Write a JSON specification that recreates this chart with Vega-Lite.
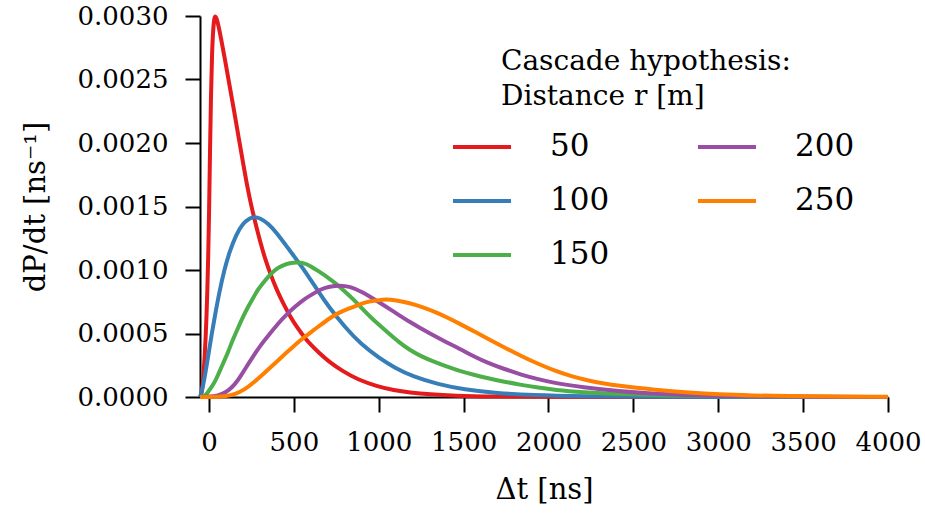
{
  "$schema": "https://vega.github.io/schema/vega-lite/v6.json",
  "width": 688,
  "height": 381,
  "autosize": {"type": "none"},
  "padding": {"left": 200, "top": 16, "right": 37, "bottom": 118},
  "background": "white",
  "title": {
    "text": ["Cascade hypothesis:", "Distance r [m]"],
    "orient": "top", "anchor": "start", "frame": "group", "align": "left", "baseline": "top",
    "dx": 301, "dy": 112, "offset": 4, "lineHeight": 35,
    "font": "DejaVu Serif", "fontSize": 28, "fontWeight": "normal", "color": "black"
  },
  "config": {
    "view": {"stroke": null},
    "axis": {
      "domainColor": "black", "domainWidth": 2, "tickColor": "black", "tickWidth": 2, "tickSize": 15,
      "labelFont": "DejaVu Serif", "labelFontSize": 26, "labelColor": "black", "labelPadding": 17,
      "titleFont": "DejaVu Serif", "titleFontSize": 29, "titleFontWeight": "normal", "titleColor": "black",
      "grid": false
    }
  },
  "datasets": {
    "curves": [
      {"r":50,"t":-53,"p":0},{"r":50,"t":-45,"p":0.00002},{"r":50,"t":-40,"p":0.00006},{"r":50,"t":-35,"p":0.00013},{"r":50,"t":-30,"p":0.00022},{"r":50,"t":-25,"p":0.00033},{"r":50,"t":-20,"p":0.00046},{"r":50,"t":-15,"p":0.00062},{"r":50,"t":-10,"p":0.00082},{"r":50,"t":-5,"p":0.00108},{"r":50,"t":0,"p":0.0014},{"r":50,"t":6,"p":0.00195},{"r":50,"t":12,"p":0.0024},{"r":50,"t":18,"p":0.00272},{"r":50,"t":25,"p":0.00291},{"r":50,"t":32,"p":0.00299},{"r":50,"t":38,"p":0.003},{"r":50,"t":45,"p":0.00298},{"r":50,"t":55,"p":0.00293},{"r":50,"t":70,"p":0.00283},{"r":50,"t":94,"p":0.00266},{"r":50,"t":120,"p":0.00246},{"r":50,"t":147,"p":0.00226},{"r":50,"t":175,"p":0.00204},{"r":50,"t":200,"p":0.00185},{"r":50,"t":225,"p":0.00166},{"r":50,"t":250,"p":0.0015},{"r":50,"t":275,"p":0.00136},{"r":50,"t":300,"p":0.00123},{"r":50,"t":330,"p":0.00109},{"r":50,"t":364,"p":0.00096},{"r":50,"t":400,"p":0.00084},{"r":50,"t":440,"p":0.00073},{"r":50,"t":480,"p":0.00063},{"r":50,"t":520,"p":0.000546},{"r":50,"t":560,"p":0.000473},{"r":50,"t":600,"p":0.00041},{"r":50,"t":650,"p":0.000345},{"r":50,"t":700,"p":0.000285},{"r":50,"t":790,"p":0.0002},{"r":50,"t":880,"p":0.000135},{"r":50,"t":988,"p":0.000085},{"r":50,"t":1090,"p":0.000053},{"r":50,"t":1182,"p":0.000035},{"r":50,"t":1300,"p":0.00002},{"r":50,"t":1450,"p":0.00001},{"r":50,"t":1650,"p":0.000004},{"r":50,"t":2000,"p":0.000001},{"r":50,"t":2500,"p":0},{"r":50,"t":4000,"p":0},
      {"r":100,"t":-53,"p":0},{"r":100,"t":-45,"p":0.00003},{"r":100,"t":-35,"p":0.00009},{"r":100,"t":-25,"p":0.00016},{"r":100,"t":-10,"p":0.00028},{"r":100,"t":0,"p":0.00036},{"r":100,"t":15,"p":0.00049},{"r":100,"t":35,"p":0.00064},{"r":100,"t":60,"p":0.00082},{"r":100,"t":90,"p":0.001},{"r":100,"t":120,"p":0.00114},{"r":100,"t":160,"p":0.00128},{"r":100,"t":200,"p":0.001367},{"r":100,"t":240,"p":0.00141},{"r":100,"t":268,"p":0.001418},{"r":100,"t":300,"p":0.00141},{"r":100,"t":350,"p":0.001365},{"r":100,"t":400,"p":0.00129},{"r":100,"t":450,"p":0.0012},{"r":100,"t":500,"p":0.00111},{"r":100,"t":550,"p":0.00102},{"r":100,"t":600,"p":0.00092},{"r":100,"t":650,"p":0.00082},{"r":100,"t":700,"p":0.00072},{"r":100,"t":800,"p":0.00055},{"r":100,"t":900,"p":0.00041},{"r":100,"t":1000,"p":0.00031},{"r":100,"t":1100,"p":0.000225},{"r":100,"t":1200,"p":0.000163},{"r":100,"t":1350,"p":0.0001},{"r":100,"t":1500,"p":0.00006},{"r":100,"t":1700,"p":0.00003},{"r":100,"t":1900,"p":0.000014},{"r":100,"t":2200,"p":0.000005},{"r":100,"t":2600,"p":0.000001},{"r":100,"t":3000,"p":0},{"r":100,"t":4000,"p":0},
      {"r":150,"t":-53,"p":0},{"r":150,"t":-40,"p":0.000002},{"r":150,"t":-25,"p":0.00001},{"r":150,"t":-10,"p":0.00003},{"r":150,"t":0,"p":0.00005},{"r":150,"t":20,"p":0.00009},{"r":150,"t":35,"p":0.00012},{"r":150,"t":55,"p":0.00018},{"r":150,"t":75,"p":0.00024},{"r":150,"t":95,"p":0.0003},{"r":150,"t":114,"p":0.00036},{"r":150,"t":140,"p":0.00045},{"r":150,"t":170,"p":0.00054},{"r":150,"t":200,"p":0.00063},{"r":150,"t":230,"p":0.00071},{"r":150,"t":260,"p":0.00078},{"r":150,"t":290,"p":0.00085},{"r":150,"t":320,"p":0.0009},{"r":150,"t":350,"p":0.00095},{"r":150,"t":380,"p":0.00099},{"r":150,"t":410,"p":0.00102},{"r":150,"t":440,"p":0.00104},{"r":150,"t":475,"p":0.001055},{"r":150,"t":516,"p":0.00106},{"r":150,"t":560,"p":0.001055},{"r":150,"t":600,"p":0.00103},{"r":150,"t":640,"p":0.000995},{"r":150,"t":680,"p":0.00096},{"r":150,"t":720,"p":0.00092},{"r":150,"t":760,"p":0.00088},{"r":150,"t":800,"p":0.00083},{"r":150,"t":850,"p":0.00077},{"r":150,"t":900,"p":0.0007},{"r":150,"t":950,"p":0.00063},{"r":150,"t":1000,"p":0.00057},{"r":150,"t":1060,"p":0.0005},{"r":150,"t":1120,"p":0.00043},{"r":150,"t":1182,"p":0.00037},{"r":150,"t":1250,"p":0.00032},{"r":150,"t":1320,"p":0.00028},{"r":150,"t":1400,"p":0.00024},{"r":150,"t":1476,"p":0.000205},{"r":150,"t":1560,"p":0.000175},{"r":150,"t":1643,"p":0.000147},{"r":150,"t":1740,"p":0.00012},{"r":150,"t":1840,"p":0.000095},{"r":150,"t":1940,"p":0.000074},{"r":150,"t":2035,"p":0.000056},{"r":150,"t":2200,"p":0.000038},{"r":150,"t":2428,"p":0.000022},{"r":150,"t":2700,"p":0.00001},{"r":150,"t":3000,"p":0.000005},{"r":150,"t":3500,"p":0.000001},{"r":150,"t":4000,"p":0},
      {"r":200,"t":-53,"p":0},{"r":200,"t":0,"p":0.000002},{"r":200,"t":50,"p":0.00001},{"r":200,"t":80,"p":0.000025},{"r":200,"t":114,"p":0.00005},{"r":200,"t":153,"p":0.0001},{"r":200,"t":185,"p":0.00016},{"r":200,"t":212,"p":0.00022},{"r":200,"t":260,"p":0.00032},{"r":200,"t":310,"p":0.00042},{"r":200,"t":360,"p":0.0005},{"r":200,"t":408,"p":0.00058},{"r":200,"t":457,"p":0.00065},{"r":200,"t":506,"p":0.00071},{"r":200,"t":560,"p":0.00077},{"r":200,"t":610,"p":0.00081},{"r":200,"t":660,"p":0.00085},{"r":200,"t":710,"p":0.00087},{"r":200,"t":771,"p":0.00088},{"r":200,"t":830,"p":0.00087},{"r":200,"t":900,"p":0.00083},{"r":200,"t":986,"p":0.00076},{"r":200,"t":1080,"p":0.00068},{"r":200,"t":1182,"p":0.00059},{"r":200,"t":1300,"p":0.0005},{"r":200,"t":1400,"p":0.00043},{"r":200,"t":1476,"p":0.00038},{"r":200,"t":1560,"p":0.00032},{"r":200,"t":1643,"p":0.000268},{"r":200,"t":1740,"p":0.00022},{"r":200,"t":1840,"p":0.000175},{"r":200,"t":1940,"p":0.00014},{"r":200,"t":2035,"p":0.00011},{"r":200,"t":2200,"p":0.000077},{"r":200,"t":2418,"p":0.000045},{"r":200,"t":2612,"p":0.000026},{"r":200,"t":2800,"p":0.000014},{"r":200,"t":3000,"p":0.000007},{"r":200,"t":3300,"p":0.000003},{"r":200,"t":4000,"p":0},
      {"r":250,"t":-53,"p":0},{"r":250,"t":50,"p":0.000001},{"r":250,"t":100,"p":0.000006},{"r":250,"t":153,"p":0.00002},{"r":250,"t":212,"p":0.00006},{"r":250,"t":260,"p":0.00011},{"r":250,"t":310,"p":0.00017},{"r":250,"t":360,"p":0.00023},{"r":250,"t":408,"p":0.00029},{"r":250,"t":457,"p":0.00035},{"r":250,"t":506,"p":0.00041},{"r":250,"t":560,"p":0.00047},{"r":250,"t":610,"p":0.00052},{"r":250,"t":660,"p":0.00057},{"r":250,"t":710,"p":0.00062},{"r":250,"t":760,"p":0.00066},{"r":250,"t":810,"p":0.00069},{"r":250,"t":870,"p":0.00072},{"r":250,"t":930,"p":0.00075},{"r":250,"t":990,"p":0.00076},{"r":250,"t":1040,"p":0.00077},{"r":250,"t":1100,"p":0.000762},{"r":250,"t":1182,"p":0.00074},{"r":250,"t":1260,"p":0.000708},{"r":250,"t":1340,"p":0.000665},{"r":250,"t":1400,"p":0.000628},{"r":250,"t":1476,"p":0.000577},{"r":250,"t":1560,"p":0.000518},{"r":250,"t":1643,"p":0.000459},{"r":250,"t":1740,"p":0.00039},{"r":250,"t":1840,"p":0.000322},{"r":250,"t":1940,"p":0.00026},{"r":250,"t":2035,"p":0.000208},{"r":250,"t":2130,"p":0.000165},{"r":250,"t":2230,"p":0.00013},{"r":250,"t":2330,"p":0.000105},{"r":250,"t":2418,"p":0.000088},{"r":250,"t":2520,"p":0.000072},{"r":250,"t":2614,"p":0.00006},{"r":250,"t":2710,"p":0.000047},{"r":250,"t":2810,"p":0.000036},{"r":250,"t":3006,"p":0.00002},{"r":250,"t":3200,"p":0.000012},{"r":250,"t":3398,"p":0.000007},{"r":250,"t":3700,"p":0.000003},{"r":250,"t":4000,"p":0.000001}
    ]
  },
  "data": {"name": "curves"},
  "mark": {"type": "line", "strokeWidth": 4, "interpolate": "basis", "clip": false},
  "encoding": {
    "x": {
      "field": "t", "type": "quantitative",
      "scale": {"domain": [-53, 4000], "nice": false, "zero": false},
      "axis": {"title": "Δt [ns]", "values": [0,500,1000,1500,2000,2500,3000,3500,4000], "format": "d", "labelFlush": false, "titlePadding": 20}
    },
    "y": {
      "field": "p", "type": "quantitative",
      "scale": {"domain": [0, 0.003], "nice": false},
      "axis": {"title": "dP/dt [ns⁻¹]", "values": [0,0.0005,0.001,0.0015,0.002,0.0025,0.003], "format": ".4f", "titlePadding": 27}
    },
    "color": {
      "field": "r", "type": "nominal",
      "scale": {"domain": [50,100,150,200,250], "range": ["#e41a1c","#377eb8","#4daf4a","#984ea3","#ff7f00"]},
      "legend": {
        "orient": "none", "legendX": 251, "legendY": 116, "title": null,
        "columns": 2, "symbolType": "stroke", "symbolSize": 3364, "symbolStrokeWidth": 4,
        "labelFont": "DejaVu Serif", "labelFontSize": 31, "labelColor": "black", "labelOffset": 37,
        "columnPadding": 86, "rowPadding": 23, "clipHeight": 30, "padding": 0
      }
    }
  }
}
